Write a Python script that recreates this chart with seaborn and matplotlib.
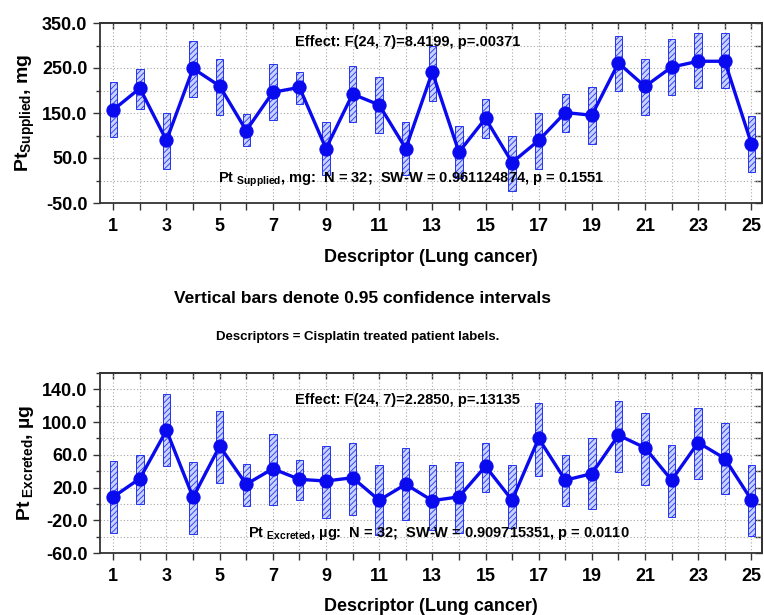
import numpy as np
import pandas as pd
import matplotlib
matplotlib.use("Agg")
import matplotlib.pyplot as plt
import seaborn as sns

# ---------------- data ----------------
descriptors = list(range(1, 26))

supplied_mean = [157, 205, 89, 249, 210, 111, 196, 207, 71, 192, 168, 71, 241, 63, 138,
                 40, 89, 151, 145, 261, 209, 252, 265, 265, 82]
supplied_hi = [219, 247, 150, 310, 270, 147, 258, 241, 131, 254, 229, 130, 299, 121, 181,
               99, 150, 193, 207, 321, 270, 314, 327, 327, 144]
supplied_lo = [97, 160, 26, 185, 145, 76, 135, 171, 12, 131, 106, 12, 177, 5, 95,
               -23, 26, 108, 82, 200, 146, 190, 205, 205, 20]

excreted_mean = [8.6, 31, 90, 8, 70.6, 24, 43, 30, 28, 32, 4.5, 24, 4, 8.6, 46,
                 4.5, 80, 29, 37, 84, 68.6, 29, 75, 55.5, 5]
excreted_hi = [52, 60, 134, 51, 114, 48.6, 85, 54, 71, 75, 48, 68, 47, 51, 75,
               48, 123, 60, 80, 126, 111, 72, 117, 99, 48]
excreted_lo = [-35, 0, 46, -37, 26, -2, -1, 4.5, -17, -13, -38, -20, -32, -36, 15,
               -30, 34, -2.5, -6.5, 39, 23, -16, 30, 12.7, -39]

# ---------------- style ----------------
sns.set_theme(style="ticks")
plt.rcParams["font.family"] = ["Liberation Sans", "DejaVu Sans"]
plt.rcParams["font.weight"] = "bold"
plt.rcParams["text.color"] = "black"
plt.rcParams["axes.labelcolor"] = "black"
plt.rcParams["xtick.color"] = "#333333"
plt.rcParams["ytick.color"] = "#333333"
plt.rcParams["xtick.labelcolor"] = "black"
plt.rcParams["ytick.labelcolor"] = "black"
plt.rcParams["mathtext.fontset"] = "custom"
plt.rcParams["mathtext.rm"] = "Liberation Sans:bold"
plt.rcParams["mathtext.bf"] = "Liberation Sans:bold"
plt.rcParams["mathtext.it"] = "Liberation Sans:bold"
plt.rcParams["hatch.color"] = "#2233ee"
plt.rcParams["hatch.linewidth"] = 0.6

LINE = "#0a0aee"
W, H = 764, 615
fig = plt.figure(figsize=(W / 100, H / 100), dpi=100)


def px_axes(left, top, right, bottom):
    return fig.add_axes([left / W, 1 - bottom / H, (right - left) / W, (bottom - top) / H])


def panel(ax, mean, lo, hi, ylim, major, minor, ylabel, xlabelpad):
    df = pd.DataFrame({"Descriptor": descriptors, "mean": mean})
    lo_a = np.array(lo, dtype=float)
    hi_a = np.array(hi, dtype=float)
    ax.bar(descriptors, hi_a - lo_a, bottom=lo_a, width=0.28,
           facecolor="#c9d2ff", edgecolor="#2233ee", linewidth=0.7,
           hatch="//////", zorder=2)
    sns.lineplot(data=df, x="Descriptor", y="mean", ax=ax, color=LINE,
                 linewidth=2.4, marker="o", markersize=9.5,
                 markeredgecolor=LINE, markerfacecolor=LINE, zorder=3)
    ax.set_xlim(0.5, 25.4)
    ax.set_ylim(*ylim)
    ax.set_xticks(list(range(1, 26, 2)))
    ax.set_xticks(descriptors, minor=True)
    ax.set_yticks(major)
    ax.set_yticks(minor, minor=True)
    ax.set_yticklabels([f"{v:.1f}" for v in major])
    ax.grid(True, which="both", axis="both", linestyle=(0, (1, 2)),
            color="#a8a8a8", linewidth=0.8, zorder=0)
    ax.set_axisbelow(True)
    ax.tick_params(axis="x", which="both", direction="out", top=False,
                   length=5, width=1, labelsize=13, pad=6)
    ax.tick_params(axis="y", which="both", direction="out", left=True,
                   right=False, length=5, width=1, labelsize=13, pad=4)
    ax.tick_params(axis="y", which="minor", length=3)
    for lab in ax.get_xticklabels() + ax.get_yticklabels():
        lab.set_fontweight("bold")
    for s in ax.spines.values():
        s.set_visible(True)
        s.set_color("#333333")
        s.set_linewidth(1.3)
    # inward ticks on top and right sides
    top = ax.secondary_xaxis("top")
    top.set_xticks(descriptors)
    top.tick_params(direction="in", length=4, width=1, labeltop=False)
    right = ax.secondary_yaxis("right")
    right.set_yticks(minor)
    right.tick_params(direction="in", length=5, width=1, labelright=False)
    ax.set_xlabel("Descriptor (Lung cancer)", fontsize=13, fontweight="bold",
                  labelpad=xlabelpad)
    ax.set_ylabel(ylabel, fontsize=14, fontweight="bold", labelpad=4)


ax1 = px_axes(100, 23, 762, 203)
panel(ax1, supplied_mean, supplied_lo, supplied_hi, (-50, 350),
      [350, 250, 150, 50, -50], list(range(-50, 351, 50)),
      r"Pt$_{\mathrm{Supplied}}$, mg", 10)

ax2 = px_axes(100, 373, 762, 553)
panel(ax2, excreted_mean, excreted_lo, excreted_hi, (-60, 160),
      [140, 100, 60, 20, -20, -60], list(range(-60, 161, 20)),
      r"Pt$_{\mathrm{\ Excreted}}$, µg", 9)


def ftext(x, y, s, **kw):
    fig.text(x / W, 1 - y / H, s, fontweight="bold", **kw)


ftext(295, 42, "Effect: F(24, 7)=8.4199, p=.00371", fontsize=10.5, va="center")
ftext(218, 180, r"Pt $_{\mathrm{Supplied}}$, mg:  N = 32;  SW-W = 0.961124874, p = 0.1551",
      fontsize=10.5, va="center")
ftext(295, 400, "Effect: F(24, 7)=2.2850, p=.13135", fontsize=10.5, va="center")
ftext(248, 533, r"Pt $_{\mathrm{Excreted}}$, µg:  N = 32;  SW-W = 0.909715351, p = 0.0110",
      fontsize=10.5, va="center")
ftext(362, 298, "Vertical bars denote 0.95 confidence intervals", fontsize=12.5,
      ha="center", va="center")
ftext(358, 337, "Descriptors = Cisplatin treated patient labels.", fontsize=9.5,
      ha="center", va="center")

fig.savefig("out.png", dpi=100)
